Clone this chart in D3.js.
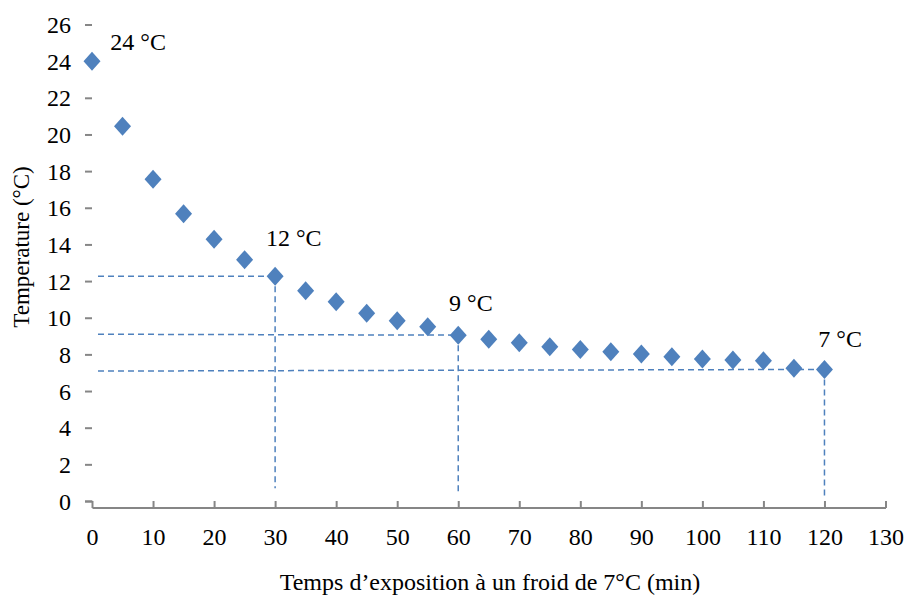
<!DOCTYPE html>
<html>
<head>
<meta charset="utf-8">
<script src="https://cdn.jsdelivr.net/npm/d3@7"></script>
<style>
  body { margin: 0; background: #fff; }
  text { font-family: "Liberation Serif", "Times New Roman", serif; fill: #000; }
</style>
</head>
<body>
<script>
// data
const times = [0, 5, 10, 15, 20, 25, 30, 35, 40, 45, 50, 55, 60, 65, 70, 75, 80, 85, 90, 95, 100, 105, 110, 115, 120];
const temps = [24.0, 20.45, 17.55, 15.68, 14.28, 13.17, 12.27, 11.47, 10.87, 10.24, 9.84, 9.51, 9.05, 8.82, 8.64, 8.42, 8.27, 8.15, 8.02, 7.87, 7.75, 7.69, 7.65, 7.24, 7.18];
const xTicks = d3.range(0, 131, 10);
const yTicks = d3.range(0, 27, 2);
// guide lines: [time, temperature at the point, temperature on the axis side]
const guides = [
    { t: 30, v: 12.27, left: 12.27, bottom: 0.7 },
    { t: 60, v: 9.05, left: 9.1, bottom: 0.5 },
    { t: 120, v: 7.18, left: 7.09, bottom: 0.3 }
];
const notes = [
    { t: 3, v: 24.0, label: '24 °C', dx: 0, dy: -11 },
    { t: 28.5, v: 12.27, label: '12 °C', dx: 0, dy: -30 },
    { t: 58.5, v: 9.05, label: '9 °C', dx: 0, dy: -24 },
    { t: 119, v: 7.18, label: '7 °C', dx: 0, dy: -22 }
];

const w = 907;
const h = 600;
const svg = d3.select('body').append('svg').attr('width', w).attr('height', h);

const x = d3.scaleLinear().domain([0, 130]).range([92, 885.5]);
const y = d3.scaleLinear().domain([0, 26]).range([501, 24.5]);
const blue = '#4F81BD';
const grey = '#868686';

// dashed guides
const g = svg.append('g');
guides.forEach(d => {
    g.append('line')
        .attr('x1', x(0) + 6).attr('y1', y(d.left))
        .attr('x2', x(d.t)).attr('y2', y(d.v))
        .attr('stroke', blue).attr('stroke-width', 1.5).attr('stroke-dasharray', '6,4');
    g.append('line')
        .attr('x1', x(d.t)).attr('y1', y(d.v))
        .attr('x2', x(d.t)).attr('y2', y(d.bottom))
        .attr('stroke', blue).attr('stroke-width', 1.5).attr('stroke-dasharray', '6,4');
});

// axes
const xAxis = d3.axisBottom(x).tickValues(xTicks).tickSize(7).tickPadding(20);
const yAxis = d3.axisLeft(y).tickValues(yTicks).tickSize(7).tickPadding(14);
svg.append('g').attr('transform', `translate(0,${y(0)})`).call(xAxis)
    .call(a => a.selectAll('text').style('font-size', '24px').attr('fill', '#000'));
svg.append('g').attr('transform', `translate(${x(0)},0)`).call(yAxis)
    .call(a => a.selectAll('text').style('font-size', '24px').attr('fill', '#000').attr('dy', '0.34em'));
svg.selectAll('.domain, .tick line').attr('stroke', grey).attr('stroke-width', 2);
svg.selectAll('.domain').attr('d', function () { return d3.select(this).attr('d').replace(/V-?\d+(\.\d+)?(?=H)|(?<=H-?\d+(\.\d+)?)V-?\d+(\.\d+)?$/g, ''); });

// diamonds
svg.append('g')
    .selectAll('path')
    .data(times)
    .enter()
    .append('path')
    .attr('d', 'M0,-9.5L8.5,0L0,9.5L-8.5,0Z')
    .attr('transform', (d, i) => `translate(${x(d)},${y(temps[i])})`)
    .attr('fill', blue);

// annotations
svg.append('g')
    .selectAll('text')
    .data(notes)
    .enter()
    .append('text')
    .attr('x', d => x(d.t) + d.dx)
    .attr('y', d => y(d.v) + d.dy)
    .style('font-size', '24px')
    .text(d => d.label);

// axis titles
svg.append('text')
    .attr('x', 490).attr('y', 590)
    .attr('text-anchor', 'middle')
    .style('font-size', '24px')
    .text('Temps d’exposition à un froid de 7°C (min)');
svg.append('text')
    .attr('transform', 'translate(29,247) rotate(-90)')
    .attr('text-anchor', 'middle')
    .style('font-size', '23px')
    .text('Temperature (°C)');
</script>
</body>
</html>
